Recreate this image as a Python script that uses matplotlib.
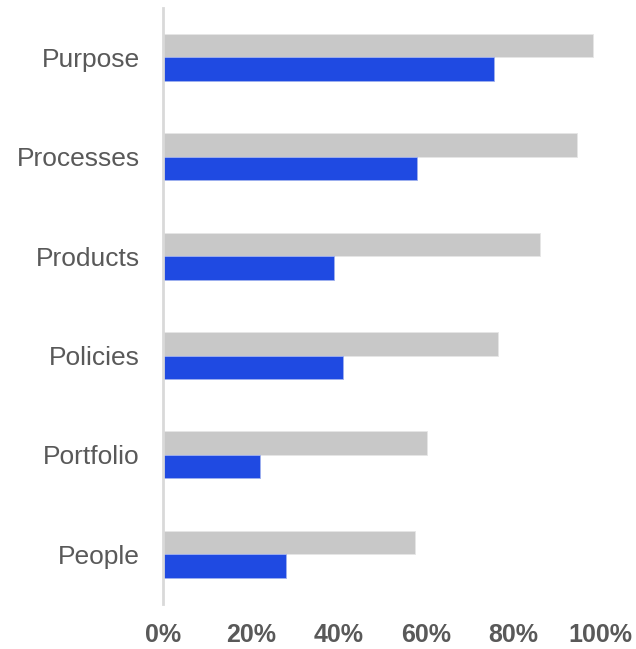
import matplotlib.pyplot as plt
import numpy as np

categories = ['Purpose', 'Processes', 'Products', 'Policies', 'Portfolio', 'People']
gray_vals = [98.3, 94.7, 86.2, 76.6, 60.4, 57.5]
blue_vals = [75.6, 58.1, 39.1, 41.1, 22.0, 28.1]
xticks = [0, 20, 40, 60, 80, 100]

plt.rcParams['font.family'] = ['Liberation Sans', 'DejaVu Sans']

fig = plt.figure(figsize=(6.36, 6.49), dpi=100)
ax = fig.add_axes([0.2568, 0.0693, 0.6874, 0.919])

y = np.arange(len(categories))
h = 0.237
ax.barh(y - h / 2, gray_vals, height=h, color='#c8c8c8', edgecolor='#e6e6e6', linewidth=0.6)
ax.barh(y + h / 2, blue_vals, height=h, color='#1f4ae2', edgecolor='#9fb0ee', linewidth=0.6)

ax.set_ylim(len(categories) - 0.5, -0.5)
ax.set_xlim(0, 100)
ax.set_yticks(y)
ax.set_yticklabels(categories, fontsize=19, color='#595959')
ax.set_xticks(xticks)
ax.set_xticklabels(['%d%%' % v for v in xticks], fontsize=18, fontweight='bold', color='#595959')
ax.tick_params(axis='y', length=0, pad=17)
ax.tick_params(axis='x', length=0, pad=14)

for s in ['top', 'right', 'bottom']:
    ax.spines[s].set_visible(False)
ax.spines['left'].set_color('#d9d9d9')
ax.spines['left'].set_linewidth(2)

fig.savefig('out.png', dpi=100)
